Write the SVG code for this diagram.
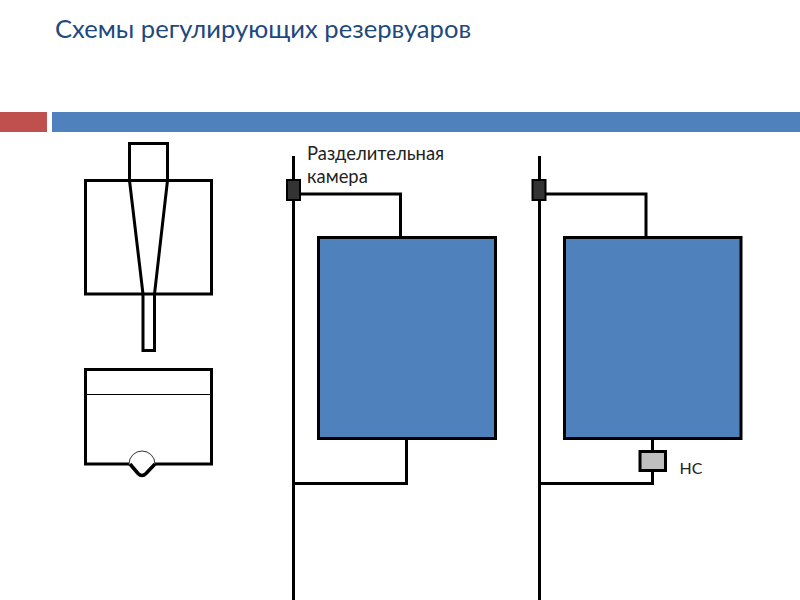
<svg xmlns="http://www.w3.org/2000/svg" width="800" height="600" viewBox="0 0 800 600">
<style>
text{font-family:"Lato","Open Sans","Noto Sans","Liberation Sans",sans-serif}
.title{font-size:25.600px;fill:#1f497d}
.lab{font-size:18.400px;fill:#222}
.ns{font-size:16px;fill:#222}
.l{fill:none;stroke:#000;stroke-width:3;stroke-linejoin:miter}
.tank{fill:#4f81bd;stroke:#000;stroke-width:3}
</style>
<rect width="800" height="600" fill="#fff"/>
<g id="header">
<rect x="0" y="112" width="47" height="20" fill="#c0504d"/>
<rect x="52" y="112" width="748" height="20" fill="#4f81bd"/>
<text class="title" x="55" y="38">Схемы регулирующих резервуаров</text>
</g>
<g id="connectors">
<path class="l" d="M293.500 156V600M293.500 194H400.500V238M406.500 438V483.500H293.500"/>
<path class="l" d="M539.500 156V600M539.500 194H646V238M652.500 438V483.500H539.500"/>
</g>
<g id="tower">
<rect class="l" x="129.500" y="143.500" width="38" height="37"/>
<rect class="l" x="85.500" y="180.500" width="126" height="113.500"/>
<path class="l" d="M129.500 180.500L143 294V350.500H154.500V294L167.500 180.500"/>
</g>
<g id="ground-tank">
<rect class="l" x="85.500" y="369.500" width="126" height="94.500"/>
<path d="M86 394.500H211" stroke="#000" stroke-width="1.200"/>
<path d="M129 464A13 13 0 0 1 155 464L146 474Q142 478 138 474Z" fill="#fff" stroke="none"/>
<path d="M130 464L138 473.500Q142 477.500 146 473.500L155 464" fill="none" stroke="#000" stroke-width="3.500"/>
<path d="M129 464A13 13 0 0 1 155 464" fill="none" stroke="#333" stroke-width="1"/>
</g>
<g id="tank-a"><rect class="tank" x="318.500" y="237.500" width="177" height="201"/></g>
<g id="tank-b"><rect class="tank" x="564.500" y="237.500" width="176.500" height="201"/></g>
<g id="chamber-a"><rect x="287" y="180" width="13" height="20" fill="#333" stroke="#000" stroke-width="2"/></g>
<g id="chamber-b"><rect x="532.500" y="180" width="13" height="20" fill="#333" stroke="#000" stroke-width="2"/></g>
<g id="pump"><rect x="640" y="451.500" width="25.500" height="19" fill="#bfbfbf" stroke="#000" stroke-width="3"/></g>
<g id="labels">
<text class="lab" x="307" y="160">Разделительная</text>
<text class="lab" x="307" y="183">камера</text>
<text class="ns" x="679.500" y="474">НС</text>
</g>
</svg>
